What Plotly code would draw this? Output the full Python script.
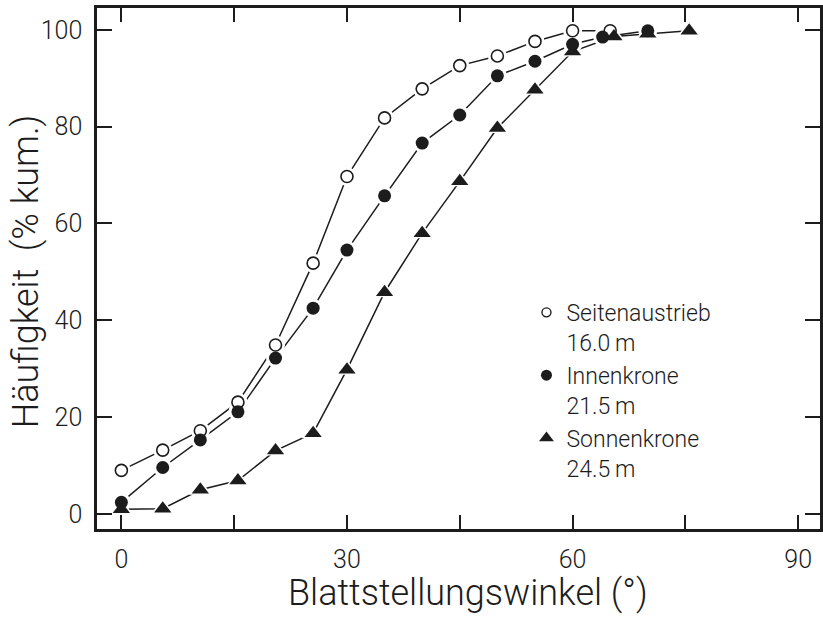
import plotly.graph_objects as go

# ---- data ----
seiten_x = [0, 5.5, 10.5, 15.5, 20.5, 25.5, 30, 35, 40, 45, 50, 55, 60, 65]
seiten_y = [9, 13.2, 17.2, 23.1, 34.9, 51.8, 69.7, 81.8, 87.8, 92.6, 94.6, 97.6, 99.8, 99.8]

innen_x = [0, 5.5, 10.5, 15.5, 20.5, 25.5, 30, 35, 40, 45, 50, 55, 60, 64, 70]
innen_y = [2.4, 9.6, 15.3, 21.1, 32.2, 42.5, 54.5, 65.7, 76.6, 82.4, 90.5, 93.5, 97, 98.5, 99.8]

sonnen_x = [0, 5.5, 10.5, 15.5, 20.5, 25.5, 30, 35, 40, 45, 50, 55, 60, 65.5, 70, 75.5]
sonnen_y = [1, 1.1, 5, 6.9, 13.1, 16.7, 29.8, 45.8, 58, 68.7, 79.7, 87.6, 95.5, 98.6, 99.2, 99.8]

series_names = ["Seitenaustrieb<br>16.0\u2009m", "Innenkrone<br>21.5\u2009m", "Sonnenkrone<br>24.5\u2009m"]

x_tickvals = [0, 15, 30, 45, 60, 75, 90]
x_ticktext = ["0", "", "30", "", "60", "", "90"]
y_tickvals = [0, 20, 40, 60, 80, 100]

INK = "#1c1c1c"
FONT = "Roboto"
WEIGHT = 300

series = [
    (seiten_x, seiten_y, dict(symbol="circle", size=12, color="white", line=dict(color=INK, width=1.6)), 19),
    (innen_x, innen_y, dict(symbol="circle", size=13, color=INK, line=dict(color=INK, width=0)), 19),
    (sonnen_x, sonnen_y, dict(symbol="triangle-up", size=15, color=INK, line=dict(color=INK, width=0)), 20),
]

fig = go.Figure()

# connecting lines
for sx, sy, mk, halo in series:
    fig.add_trace(go.Scatter(x=sx, y=sy, mode="lines", line=dict(color=INK, width=1.5),
                             showlegend=False, hoverinfo="skip"))
# white halos creating gaps between lines and markers
for sx, sy, mk, halo in series:
    fig.add_trace(go.Scatter(x=sx, y=sy, mode="markers",
                             marker=dict(symbol=mk["symbol"], size=halo, color="white", line=dict(width=0)),
                             showlegend=False, hoverinfo="skip"))
# markers
for sx, sy, mk, halo in series:
    fig.add_trace(go.Scatter(x=sx, y=sy, mode="markers", marker=mk, showlegend=False))

# legend entries
legend_markers = [
    dict(symbol="circle", size=9, color="white", line=dict(color=INK, width=1.4)),
    dict(symbol="circle", size=11, color=INK, line=dict(width=0)),
    dict(symbol="triangle-up", size=13, color=INK, line=dict(width=0)),
]
for name, mk in zip(series_names, legend_markers):
    fig.add_trace(go.Scatter(x=[None], y=[None], mode="markers", marker=mk, name=name, showlegend=True))

axis_common = dict(
    showline=True, linecolor=INK, linewidth=2.5, mirror="allticks",
    ticks="inside", tickcolor=INK, tickwidth=2,
    showgrid=False, zeroline=False,
    tickfont=dict(family=FONT, size=25, color=INK, weight=WEIGHT),
)

fig.update_xaxes(range=[-3.24, 92.9], tickvals=x_tickvals, ticktext=x_ticktext, ticklen=14,
                 ticklabelstandoff=6, **axis_common)
fig.update_yaxes(range=[-3.1, 104.5], tickvals=y_tickvals, ticklen=15,
                 ticklabelstandoff=7, **axis_common)

fig.update_layout(
    width=823, height=617,
    margin=dict(l=97, r=0, t=8, b=88),
    paper_bgcolor="white", plot_bgcolor="white",
    font=dict(family=FONT, color=INK, weight=WEIGHT),
    legend=dict(x=0.594, y=0.457, xanchor="left", yanchor="top",
                font=dict(family=FONT, size=23, color=INK, weight=WEIGHT),
                valign="top", bgcolor="rgba(0,0,0,0)", tracegroupgap=0,
                itemsizing="trace"),
    annotations=[
        dict(text="Blattstellungswinkel (°)", xref="paper", yref="paper",
             x=0.513, y=-0.1675, xanchor="center", yanchor="bottom", showarrow=False,
             font=dict(family=FONT, size=36, color=INK, weight=WEIGHT)),
        dict(text="Häufigkeit\u00a0\u00a0(% kum.)", xref="paper", yref="paper",
             x=-0.098, y=0.495, xanchor="center", yanchor="middle", showarrow=False,
             textangle=-90, font=dict(family=FONT, size=36, color=INK, weight=WEIGHT)),
    ],
)

fig.write_html("out.html")
